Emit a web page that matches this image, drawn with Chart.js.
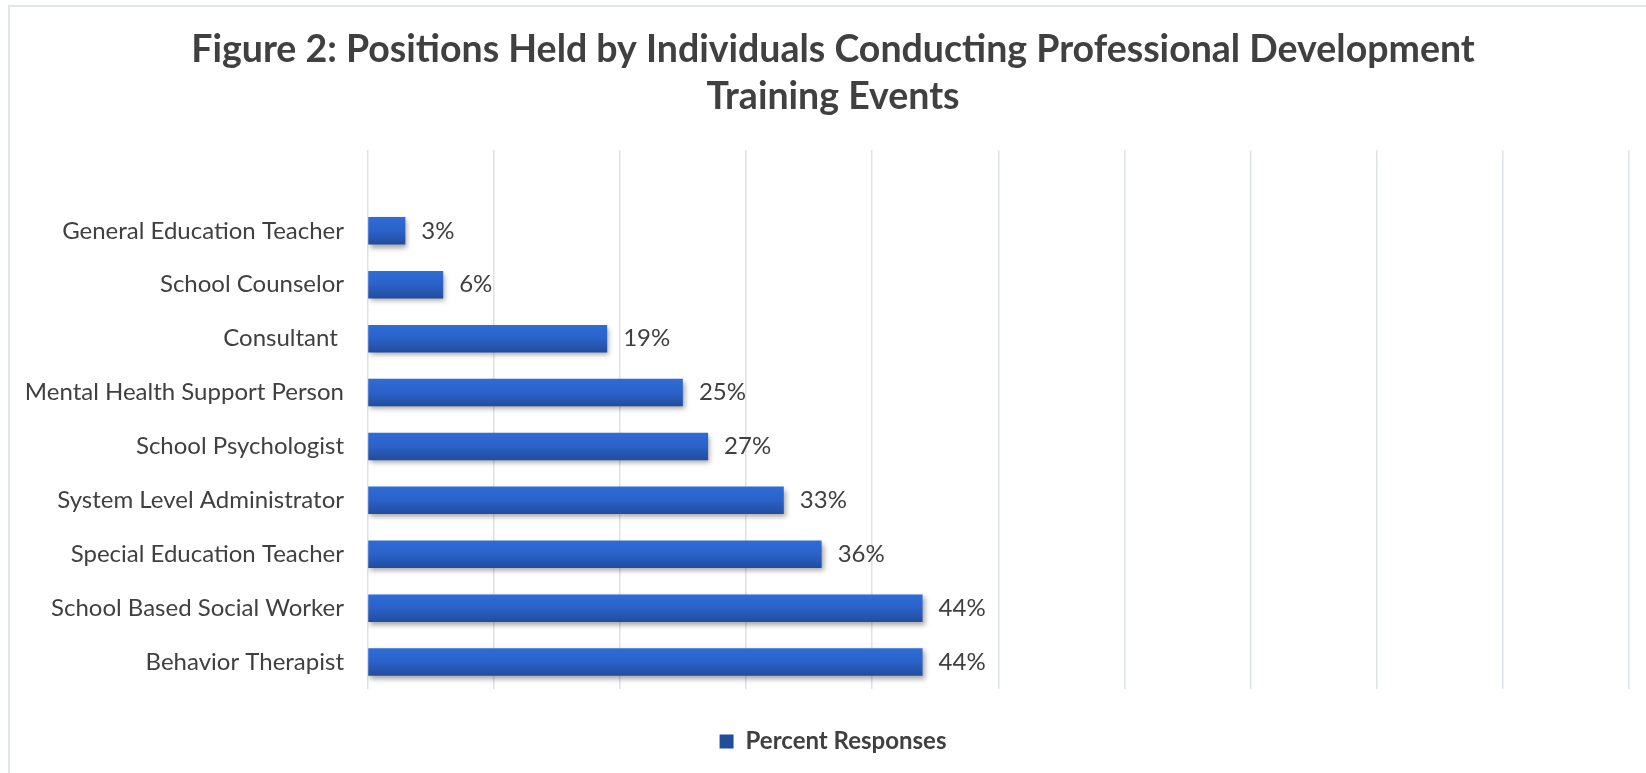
<!DOCTYPE html>
<html>
<head>
<meta charset="utf-8">
<script src="https://cdn.jsdelivr.net/npm/chart.js@4"></script>
<style>
  html, body { margin: 0; padding: 0; background: #ffffff; overflow: hidden; width: 1646px; height: 773px; }
  #frame { position: absolute; left: 8px; top: 5px; width: 1660px; height: 790px; border: 2px solid #e0e4eb; box-sizing: border-box; background: #fff; }
  #c { position: absolute; left: 0; top: 0; }
</style>
</head>
<body>
<div id="frame"><canvas id="c" width="1646" height="766"></canvas></div>
<script>
// ---- data ----
const categories = ['', 'General Education Teacher', 'School Counselor', 'Consultant ', 'Mental Health Support Person',
  'School Psychologist', 'System Level Administrator', 'Special Education Teacher', 'School Based Social Worker', 'Behavior Therapist'];
const percentResponses = [null, 3, 6, 19, 25, 27, 33, 36, 44, 44];
const seriesName = 'Percent Responses';
const titleLines = ['Figure 2: Positions Held by Individuals Conducting Professional Development', 'Training Events'];
const axisMin = 0, axisMax = 100, axisStep = 10;

const TEXT = '#404040';
const FONT = 'Lato';

function barFill(c) {
  const chart = c.chart;
  if (!chart.chartArea || c.dataIndex === undefined || !chart.scales.y) return '#2a5ec2';
  const y = chart.scales.y.getPixelForValue(c.dataIndex);
  const h = 14;
  const g = chart.ctx.createLinearGradient(0, y - h, 0, y + h);
  g.addColorStop(0, '#2f6cd8');
  g.addColorStop(0.5, '#2a62c8');
  g.addColorStop(1, '#224c9c');
  return g;
}

const shadowPlugin = {
  id: 'barShadow',
  beforeDatasetsDraw(chart) {
    const ctx = chart.ctx;
    ctx.save();
    ctx.shadowColor = 'rgba(0,0,0,0.35)';
    ctx.shadowBlur = 5;
    ctx.shadowOffsetX = 2;
    ctx.shadowOffsetY = 3;
  },
  afterDatasetsDraw(chart) {
    chart.ctx.restore();
    const ctx = chart.ctx;
    const meta = chart.getDatasetMeta(0);
    const data = chart.data.datasets[0].data;
    ctx.save();
    ctx.font = '24px ' + FONT;
    ctx.fillStyle = TEXT;
    ctx.textAlign = 'left';
    ctx.textBaseline = 'middle';
    meta.data.forEach((el, i) => {
      if (data[i] === null || data[i] === undefined) return;
      ctx.fillText(data[i] + '%', el.x + 16, el.y);
    });
    ctx.restore();
  }
};

new Chart(document.getElementById('c'), {
  type: 'bar',
  data: {
    labels: categories,
    datasets: [{
      label: seriesName,
      data: percentResponses,
      backgroundColor: barFill,
      borderWidth: 0,
      barPercentage: 0.51,
      categoryPercentage: 1.0
    }]
  },
  plugins: [shadowPlugin],
  options: {
    indexAxis: 'y',
    responsive: false,
    animation: false,
    devicePixelRatio: 1,
    layout: { padding: { left: 0, right: 0, top: 0, bottom: 9.5 } },
    plugins: {
      tooltip: { enabled: false },
      title: {
        display: true,
        text: titleLines,
        color: TEXT,
        font: { family: FONT, size: 37.5, weight: 'bold', lineHeight: 1.25 },
        padding: { top: 19.1, bottom: 30.15 }
      },
      legend: {
        display: true,
        position: 'bottom',
        labels: {
          boxWidth: 14,
          boxHeight: 14,
          padding: 40.5,
          color: TEXT,
          font: { family: FONT, size: 24, weight: 'bold' }
        }
      }
    },
    scales: {
      x: {
        min: axisMin, max: axisMax,
        ticks: { display: false, stepSize: axisStep },
        grid: { color: '#dde1e9', lineWidth: 1.5, drawTicks: false },
        border: { display: false }
      },
      y: {
        ticks: { color: TEXT, padding: 23.5, font: { family: FONT, size: 24 }, autoSkip: false },
        grid: { display: false, drawTicks: false },
        border: { display: false },
        afterFit(scale) { scale.width = 357.5; }
      },
      yRightSpace: {
        type: 'linear',
        position: 'right',
        display: true,
        ticks: { display: false },
        grid: { display: false, drawTicks: false },
        border: { display: false },
        afterFit(scale) { scale.width = 27; }
      }
    }
  }
});
</script>
</body>
</html>
